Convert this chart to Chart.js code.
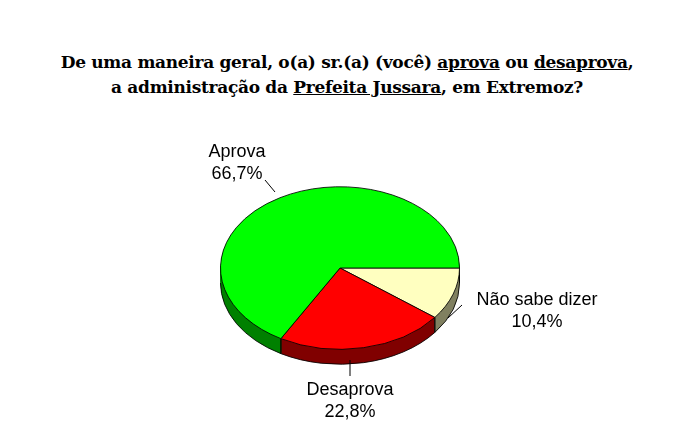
<!DOCTYPE html>
<html><head><meta charset="utf-8">
<script src="https://cdn.jsdelivr.net/npm/chart.js@4"></script>
<style>
body{margin:0;background:#fff;}
#wrap{position:relative;width:694px;height:437px;}
#title{position:absolute;top:50px;left:0;width:694px;text-align:center;font:bold 17px "DejaVu Serif",serif;line-height:25px;color:#000;letter-spacing:-0.3px;}
canvas{position:absolute;left:0;top:0;}
</style></head><body>
<div id="wrap">
<div id="title">De uma maneira geral, o(a) sr.(a) (você) <u>aprova</u> ou <u>desaprova</u>,<br>a administração da <u>Prefeita Jussara</u>, em Extremoz?</div>
<canvas id="c" width="694" height="437"></canvas>
</div>
<script>
const labels = ['Não sabe dizer', 'Desaprova', 'Aprova'];
const values = [10.4, 22.8, 66.7];
const topColors = ['#ffffc0', '#ff0000', '#00ff00'];
const sideColors = ['#808060', '#800000', '#008000'];
const labelPos = [[537, 300, 'center'], [350, 390, 'center'], [237, 152, 'center']];

const SQ = 0.68, DEPTH = 15;
const pie3d = {
  id: 'pie3d',
  beforeDatasetsDraw(chart) {
    const ctx = chart.ctx, arcs = chart.getDatasetMeta(0).data;
    const cx = arcs[0].x, cy = arcs[0].y;
    ctx.save();
    ctx.translate(cx, cy); ctx.scale(1, SQ); ctx.translate(-cx, -cy);
    for (let d = DEPTH; d >= 1; d--) {
      const off = d / SQ;
      arcs.forEach((a, i) => {
        ctx.beginPath();
        ctx.moveTo(cx, cy + off);
        ctx.arc(cx, cy + off, a.outerRadius, a.startAngle, a.endAngle);
        ctx.closePath();
        ctx.fillStyle = sideColors[i];
        ctx.fill();
      });
    }
    ctx.lineWidth = 1;
    ctx.strokeStyle = '#000';
    arcs.forEach(a => {
      ctx.beginPath();
      ctx.arc(cx, cy + DEPTH / SQ, a.outerRadius, Math.max(a.startAngle, 0), Math.min(a.endAngle, Math.PI));
      ctx.stroke();
      [a.startAngle, a.endAngle].forEach(t => {
        const tt = ((t % (2 * Math.PI)) + 2 * Math.PI) % (2 * Math.PI);
        if (tt <= Math.PI) {
          const x = cx + a.outerRadius * Math.cos(t), y = cy + a.outerRadius * Math.sin(t);
          ctx.beginPath(); ctx.moveTo(x, y); ctx.lineTo(x, y + DEPTH / SQ); ctx.stroke();
        }
      });
    });
  },
  afterDatasetsDraw(chart) {
    const ctx = chart.ctx;
    ctx.restore();
    ctx.save();
    ctx.fillStyle = '#000';
    ctx.font = '18px "Liberation Sans", Arial, sans-serif';
    ctx.textBaseline = 'middle';
    labels.forEach((l, i) => {
      const [x, y, al] = labelPos[i];
      ctx.textAlign = al;
      ctx.fillText(l, x, y);
      ctx.fillText(values[i].toFixed(1).replace('.', ',') + '%', x, y + 22);
    });
    ctx.strokeStyle = '#000'; ctx.lineWidth = 1;
    ctx.beginPath();
    ctx.moveTo(462, 305); ctx.lineTo(448, 318);
    ctx.moveTo(350, 376); ctx.lineTo(350, 360);
    ctx.moveTo(265, 180); ctx.lineTo(275, 192);
    ctx.stroke();
    ctx.restore();
  }
};

new Chart(document.getElementById('c'), {
  type: 'pie',
  data: { labels, datasets: [{ data: values, backgroundColor: topColors, borderColor: '#000', borderWidth: 1 }] },
  options: {
    responsive: false, animation: false, rotation: 90,
    layout: { padding: { left: 220, right: 234, top: 148, bottom: 49 } },
    plugins: { legend: { display: false }, tooltip: { enabled: false } }
  },
  plugins: [pie3d]
});
</script>
</body></html>
